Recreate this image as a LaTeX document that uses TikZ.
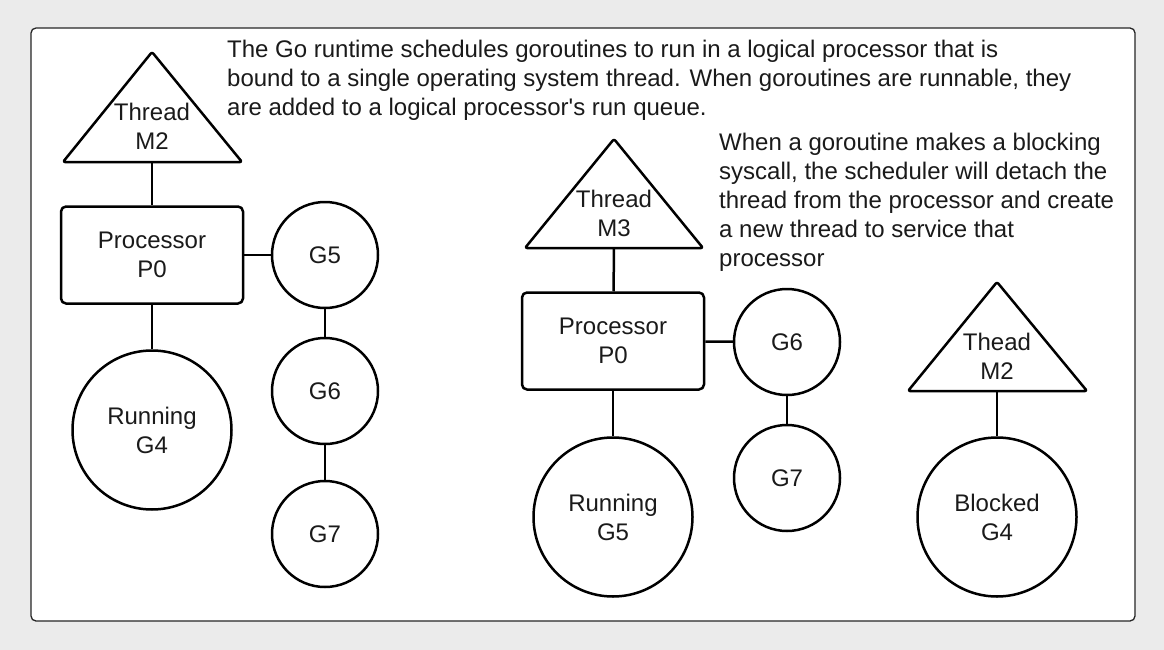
\documentclass[tikz,border=0pt]{standalone}
\usepackage{fontspec}
\setmainfont{Liberation Sans}[Ligatures=TeXOff]
\usetikzlibrary{positioning}

\definecolor{bggray}{HTML}{EBEBEB}
\definecolor{inkgray}{HTML}{1A1A1A}

\tikzset{
  every picture/.append style={x=1pt, y=-1pt},
  gline/.style={line width=2.5pt, line join=round},
  txt/.style={font=\fontsize{24}{29}\selectfont, text=inkgray, align=center, inner sep=0pt},
  threadtri/.style={gline, rounded corners=2pt},
  procbox/.style={txt, draw, gline, rounded corners=5pt, minimum width=182pt, minimum height=97pt},
  gor/.style={txt, draw, gline, circle, minimum size=106pt},
  bigor/.style={gor, minimum size=159pt},
  note/.style={txt, align=left, anchor=base west}
}

\begin{document}
\begin{tikzpicture}
  \useasboundingbox (0,0) rectangle (1164,650);
  \fill[bggray] (0,0) rectangle (1164,650);
  \draw[fill=white, draw=black!85, line width=1.3pt, rounded corners=5pt] (31,28) rectangle (1135,621);

  \node[note] (intro) at (227,116) {The Go runtime schedules goroutines to run in a logical processor that is\\
    bound to a single operating system thread. When goroutines are runnable, they\\
    are added to a logical processor's run queue.};
  \node[note] (syscall) at (719,266) {When a goroutine makes a blocking\\
    syscall, the scheduler will detach the\\
    thread from the processor and create\\
    a new thread to service that\\
    processor};

  % before the syscall
  \draw[threadtri] (152,52) -- (242,162) -- (63,162) -- cycle;
  \node[txt] (m2) at (152,126) {Thread\\M2};
  \coordinate (m2b) at (152,162);
  \node[procbox] (p0) at (152,255) {Processor\\P0};
  \node[bigor] (g4) at (152,430) {Running\\G4};
  \node[gor] (g5) at (325,255) {G5};
  \node[gor] (g6) at (325,391) {G6};
  \node[gor] (g7) at (325,534) {G7};
  \draw[gline] (m2b) -- (p0);
  \draw[gline] (p0) -- (g4);
  \draw[gline] (p0) -- (g5);
  \draw[gline] (g5) -- (g6);
  \draw[gline] (g6) -- (g7);

  % after the syscall
  \draw[threadtri] (614,139) -- (703,248) -- (525,248) -- cycle;
  \node[txt] (m3) at (614,213) {Thread\\M3};
  \coordinate (m3b) at (614,248);
  \node[procbox] (q0) at (613,341) {Processor\\P0};
  \node[bigor] (h5) at (613,517) {Running\\G5};
  \node[gor] (h6) at (787,342) {G6};
  \node[gor] (h7) at (787,478) {G7};
  \draw[gline] (m3b) -- (q0);
  \draw[gline] (q0) -- (h5);
  \draw[gline] (q0) -- (h6);
  \draw[gline] (h6) -- (h7);

  \draw[threadtri] (997,282) -- (1087,391) -- (908,391) -- cycle;
  \node[txt] (m2x) at (997,356) {Thead\\M2};
  \coordinate (m2xb) at (997,391);
  \node[bigor] (h4) at (997,517) {Blocked\\G4};
  \draw[gline] (m2xb) -- (h4);
\end{tikzpicture}
\end{document}
